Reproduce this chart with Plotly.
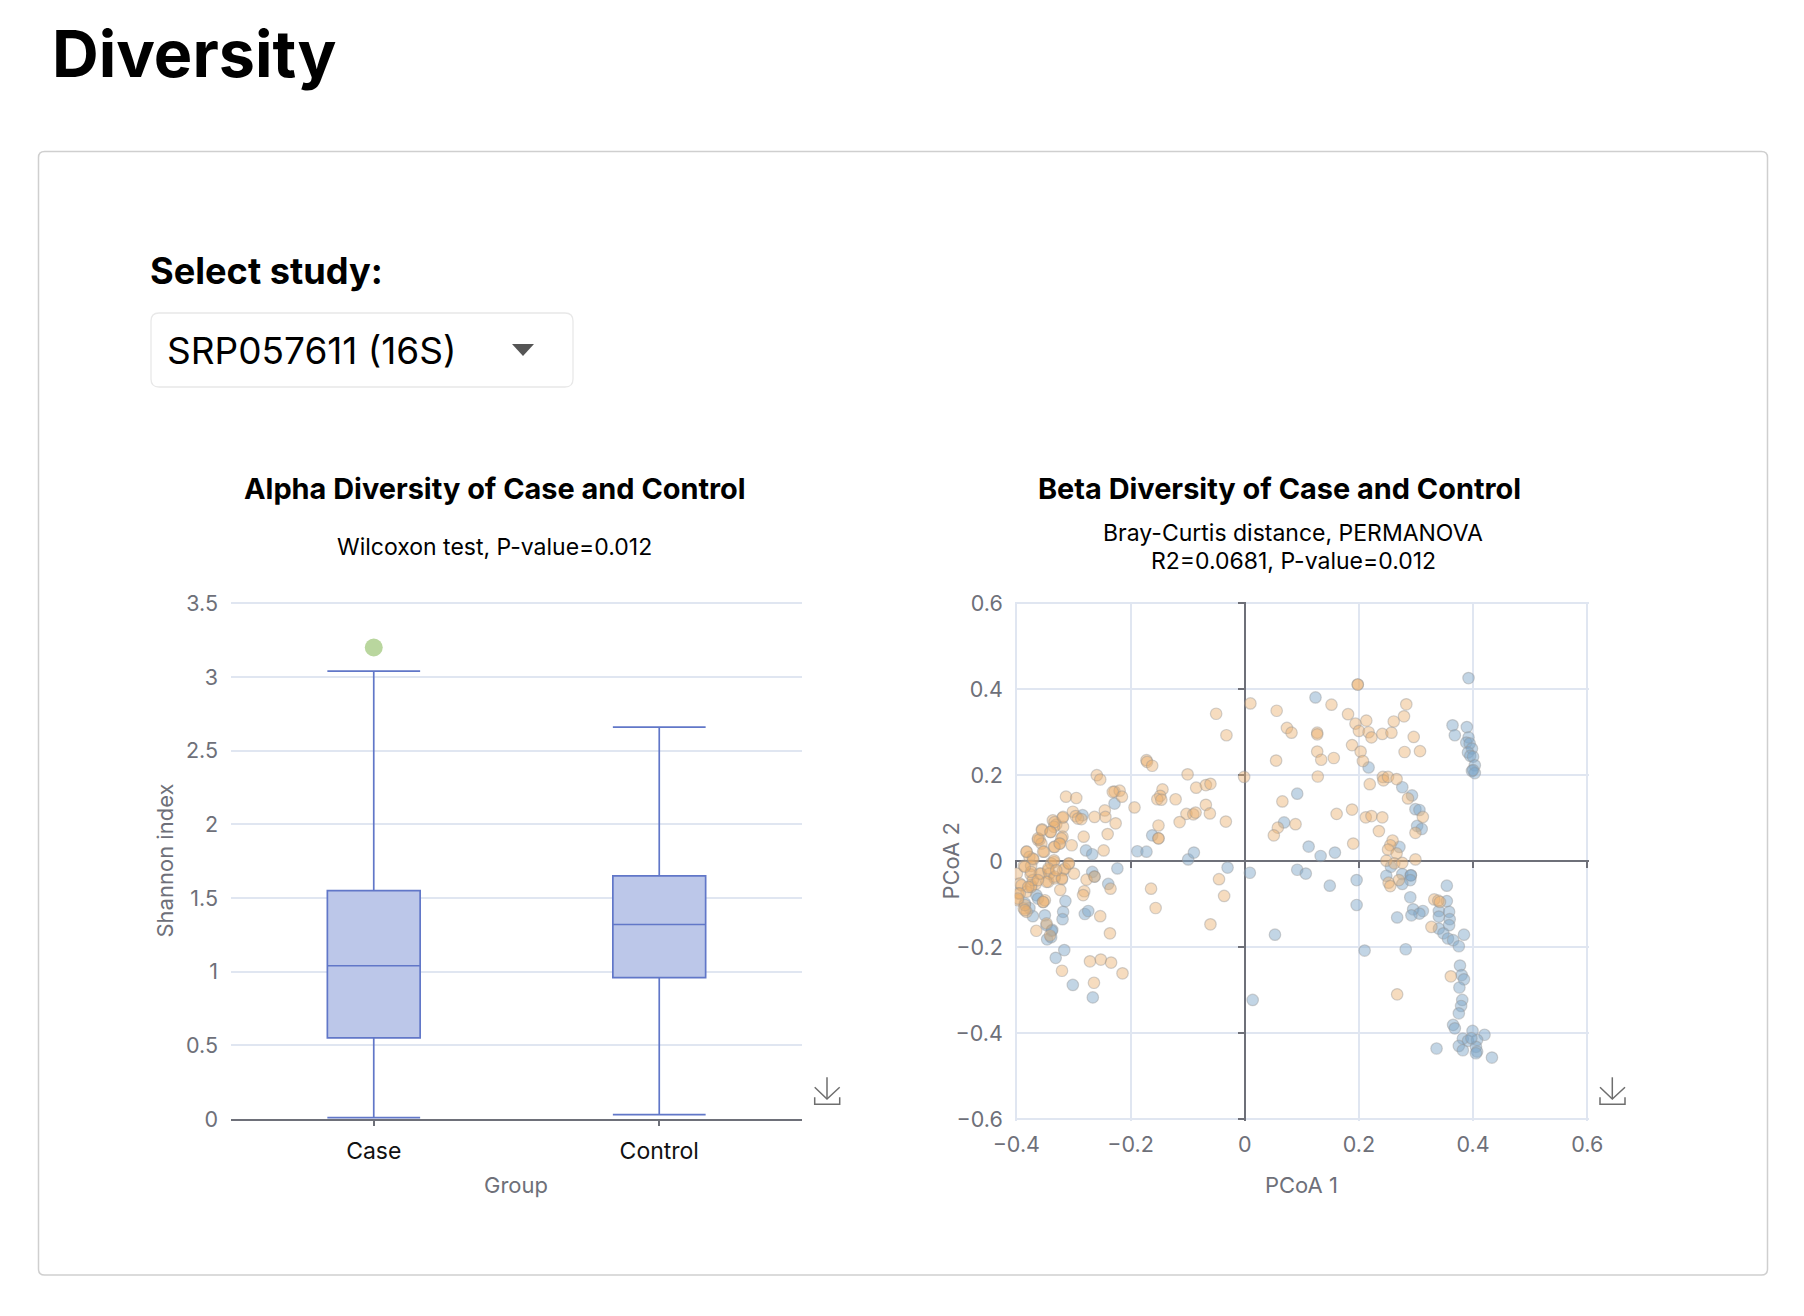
import plotly.graph_objects as go

W, H = 1804, 1316

# ---------- data ----------
groups = ["Case", "Control"]
box_lower = [0.01, 0.03]
box_q1 = [0.55, 0.96]
box_median = [1.04, 1.32]
box_q3 = [1.55, 1.65]
box_upper = [3.04, 2.66]
outlier_group = ["Case"]
outlier_value = [3.2]

alpha_ticks = [0, 0.5, 1, 1.5, 2, 2.5, 3, 3.5]
alpha_tick_labels = ["0", "0.5", "1", "1.5", "2", "2.5", "3", "3.5"]
pcoa_x_ticks = [-0.4, -0.2, 0, 0.2, 0.4, 0.6]
pcoa_x_labels = ["\u22120.4", "\u22120.2", "0", "0.2", "0.4", "0.6"]
pcoa_y_ticks = [-0.6, -0.4, -0.2, 0, 0.2, 0.4, 0.6]
pcoa_y_labels = ["\u22120.6", "\u22120.4", "\u22120.2", "0", "0.2", "0.4", "0.6"]

blue_x = [.124,.092,.069,.112,.133,.158,-.030,.009,.092,.107,.149,.196,.196,.053,-.099,-.089,-.162,
          -.228,-.284,-.278,-.267,-.188,-.172,-.223,-.267,-.263,-.239,-.314,-.318,-.319,-.280,-.274,
          -.371,-.350,-.377,-.347,-.337,-.365,-.362,-.385,-.316,-.331,-.301,-.266,-.346,-.339,-.338,.014,
          .392,.364,.368,.389,.392,.388,.394,.398,.391,.395,.400,.403,.398,.403,.400,
          .217,.276,.293,.299,.306,.302,.310,.271,.256,.248,.276,.291,.291,.290,.276,.354,.290,.354,
          .312,.295,.306,.292,.267,.340,.358,.340,.359,.358,.384,.340,.348,.356,.365,.375,
          .377,.380,.384,.376,.381,.379,.375,.365,.368,.399,.420,.382,.391,.407,.375,.382,.405,.407,.405,
          .336,.433,.397,.210,.282]
blue_y = [.381,.157,.090,.034,.012,.020,-.015,-.027,-.020,-.029,-.057,-.044,-.102,-.171,.004,.020,.060,
          .134,.107,.025,.016,.023,.022,-.017,-.025,-.036,-.053,-.093,-.118,-.135,-.123,-.116,
          -.128,-.126,-.109,-.149,-.160,-.079,-.087,-.098,-.207,-.225,-.288,-.317,-.182,-.177,-.162,-.323,
          .426,.316,.293,.312,.288,.276,.274,.262,.253,.245,.243,.223,.210,.205,.212,
          .218,.172,.153,.121,.119,.082,.075,.033,-.013,-.034,-.030,-.033,-.033,-.044,-.053,-.057,-.084,-.093,
          -.116,-.112,-.122,-.126,-.131,-.116,-.118,-.129,-.135,-.149,-.171,-.157,-.168,-.180,-.184,-.198,
          -.243,-.265,-.275,-.294,-.323,-.337,-.354,-.381,-.389,-.395,-.404,-.413,-.418,-.416,-.430,-.440,-.432,-.443,-.447,
          -.436,-.457,-.412,-.208,-.205]

orange_x = [-.050,-.032,.010,.056,.074,.082,.127,.127,.152,.181,.055,.127,.134,.156,.188,.128,-.001,-.100,
            -.172,-.171,-.162,-.259,-.253,-.313,-.295,-.228,-.219,-.215,-.231,-.193,-.144,-.148,-.153,-.146,
            -.121,-.085,-.068,-.060,-.068,-.102,-.090,-.086,-.061,-.114,-.033,-.151,-.151,-.151,-.245,-.244,
            -.263,-.226,-.240,-.282,-.247,-.303,-.301,-.296,-.292,-.286,-.319,-.336,-.330,-.318,-.334,-.340,
            -.355,-.319,-.324,-.334,-.362,-.359,-.356,-.351,-.382,-.377,-.370,-.387,-.374,-.375,-.359,-.344,
            -.334,-.339,-.308,-.399,-.318,-.299,-.320,-.344,-.333,-.323,-.394,-.374,-.366,-.397,-.382,-.397,
            -.387,-.382,-.353,-.350,-.365,-.347,-.341,-.277,-.263,-.281,-.283,-.235,-.253,-.236,-.164,-.156,
            -.060,-.045,-.036,-.271,-.252,-.234,-.214,-.320,-.264,.066,.058,.051,.089,.161,.188,.190,
            .198,.198,.194,.213,.200,.217,.222,.241,.257,.261,.279,.283,.296,.280,.307,.203,.207,.242,.243,
            .251,.266,.219,.286,.212,.222,.241,.312,.235,.299,.259,.255,.251,.266,.248,.262,.276,.299,.270,
            .252,.255,.332,.339,.342,.327,.361,.267,
            -.391,-.394,-.374,-.371,-.374,-.357,-.342,-.333,-.320,-.347,-.385,-.371,-.382,-.362,-.353,-.334,
            -.315,-.308,-.385,-.397,-.385,-.353,-.379,-.362,-.344,-.330,-.333,-.318,-.355,-.340,-.321,-.333,-.324]
orange_y = [.343,.293,.367,.350,.310,.299,.299,.295,.364,.342,.234,.255,.236,.240,.270,.197,.196,.202,
            .235,.231,.222,.200,.190,.150,.147,.162,.164,.150,.161,.125,.167,.152,.144,.143,
            .144,.171,.177,.180,.131,.110,.109,.113,.111,.091,.092,.083,.053,.053,.118,.103,
            .103,.088,.063,.057,.025,.037,.115,.105,.099,.098,.101,.095,.085,.080,.080,.068,
            .074,.057,.041,.033,.049,.050,.041,.022,.022,.010,.004,-.011,-.011,-.031,-.029,-.021,
            -.002,-.005,-.006,-.029,-.021,-.029,-.042,-.048,-.040,-.067,-.052,-.056,-.053,-.075,-.071,-.091,
            -.110,-.118,-.095,-.091,-.162,-.145,-.173,-.043,-.036,-.070,-.079,-.064,-.128,-.168,-.064,-.109,
            -.147,-.042,-.081,-.233,-.229,-.236,-.261,-.255,-.283,.139,.078,.060,.086,.110,.120,.041,
            .411,.411,.320,.327,.303,.300,.288,.296,.299,.325,.337,.365,.289,.254,.256,.255,.233,.196,.188,
            .196,.191,.179,.146,.102,.105,.102,.103,.070,.066,.048,.037,.027,.018,.001,-.005,-.004,.004,-.044,
            -.050,-.058,-.089,-.092,-.095,-.153,-.268,-.310,
            -.056,-.075,-.060,-.044,-.025,-.029,-.029,-.036,-.040,-.048,-.013,.006,.022,.053,.022,.002,
            -.017,-.005,-.102,-.087,-.114,-.095,-.060,-.044,-.017,-.021,.091,.103,.072,.068,.053,.033,.041]

# ---------- pixel helpers ----------
def px(x): return x / W
def py(y): return 1 - y / H
def rrect(x0, y0, x1, y1, r):
    a, b, c, d = px(x0), px(x1), py(y0), py(y1)
    rx, ry = r / W, r / H
    return (f"M {a+rx} {c} L {b-rx} {c} Q {b} {c} {b} {c-ry} L {b} {d+ry} Q {b} {d} {b-rx} {d} "
            f"L {a+rx} {d} Q {a} {d} {a} {d+ry} L {a} {c-ry} Q {a} {c} {a+rx} {c} Z")
def poly(points, close=False):
    s = " ".join(("M" if i == 0 else "L") + f" {px(x)} {py(y)}" for i, (x, y) in enumerate(points))
    return s + (" Z" if close else "")
def download_icon(x0):
    return [poly([(x0, 1087.3), (x0 + 12.3, 1099), (x0 + 25, 1087.3)]),
            poly([(x0 + 12.3, 1077.3), (x0 + 12.3, 1099)]),
            poly([(x0, 1097.3), (x0, 1104.3), (x0 + 25, 1104.3), (x0 + 25, 1097.3)])]

FONT = "Inter"
GREY = "#6e7079"
GRID = "#e0e6f1"

fig = go.Figure()

# ---------- alpha box plot ----------
fig.add_trace(go.Box(
    x=groups, q1=box_q1, median=box_median, q3=box_q3,
    lowerfence=box_lower, upperfence=box_upper,
    width=0.325, whiskerwidth=1, boxpoints=False,
    fillcolor="#bcc7e9", line=dict(color="#6177c8", width=1.7),
    xaxis="x", yaxis="y", showlegend=False))
fig.add_trace(go.Scatter(
    x=outlier_group, y=outlier_value, mode="markers",
    marker=dict(size=18, color="#b9d69e"),
    xaxis="x", yaxis="y", showlegend=False))

# ---------- beta scatter ----------
def scatter(xs, ys, color):
    return go.Scatter(x=xs, y=ys, mode="markers",
                      marker=dict(size=11.5, color=color,
                                  line=dict(color="rgba(150,150,150,0.42)", width=1.2)),
                      xaxis="x2", yaxis="y2", showlegend=False)
fig.add_trace(scatter(blue_x, blue_y, "rgba(125,165,200,0.47)"))
fig.add_trace(scatter(orange_x, orange_y, "rgba(235,175,110,0.44)"))
# the axes crossing at zero live on a matched overlay pair
fig.add_trace(go.Scatter(x=[], y=[], xaxis="x3", yaxis="y3", showlegend=False))

shapes = [
    dict(type="path", xref="paper", yref="paper", path=rrect(38.5, 151.5, 1767.5, 1275, 6),
         line=dict(color="#cfcfcf", width=1.5), fillcolor="#ffffff", layer="below"),
    dict(type="path", xref="paper", yref="paper", path=rrect(151, 313, 573, 387, 8),
         line=dict(color="#e8e8e8", width=1.3), fillcolor="#ffffff", layer="below"),
    dict(type="path", xref="paper", yref="paper",
         path=poly([(512, 344), (534, 344), (523, 356)], close=True),
         line=dict(width=0), fillcolor="#555555"),
]
for x0 in (814.7, 1600):
    for p in download_icon(x0):
        shapes.append(dict(type="path", xref="paper", yref="paper", path=p,
                           line=dict(color="#6e6e6e", width=1.5)))

def text(s, x, y, size, color="#000000", weight=400, anchor="center", angle=0):
    return dict(text=s, x=px(x), y=py(y), xref="paper", yref="paper", showarrow=False,
                xanchor=anchor, yanchor="middle", textangle=angle,
                font=dict(family=FONT, size=size, color=color, weight=weight))

annotations = [
    text("Diversity", 49.5, 53, 64.7, weight=700, anchor="left"),
    text("Select study:", 147.5, 271, 36.2, weight=700, anchor="left"),
    text("SRP057611 (16S)", 164.5, 350, 37, anchor="left"),
    text("Alpha Diversity of Case and Control", 495, 488, 28.9, weight=700),
    text("Beta Diversity of Case and Control", 1279, 488, 28.9, weight=700),
    text("Wilcoxon test, P-value=0.012", 494, 546.5, 23),
    text("Bray-Curtis distance, PERMANOVA", 1293, 533, 23),
    text("R2=0.0681, P-value=0.012", 1293, 560.5, 23),
    text("Group", 516, 1185, 22, color=GREY),
    text("PCoA 1", 1301, 1185, 22, color=GREY),
    text("Shannon index", 164.5, 861, 22, color=GREY, angle=-90),
    text("PCoA 2", 950.5, 861, 22, color=GREY, angle=-90),
]

# a little slack so the grid lines on the plot edges are kept
pad_px = 1.5
alpha_top = 3.5 + pad_px * 3.5 / (1119 - 603.3)
pcoa_dx = pad_px * 1.0 / 571
pcoa_dy = pad_px * 1.2 / (1119 - 603.3)
pcoa_x_range = [-0.4 - pcoa_dx, 0.6 + pcoa_dx]
pcoa_y_range = [-0.6 - pcoa_dy, 0.6 + pcoa_dy]

fig.update_layout(
    width=W, height=H, autosize=False,
    margin=dict(l=0, r=0, t=0, b=0),
    paper_bgcolor="#ffffff", plot_bgcolor="rgba(0,0,0,0)",
    font=dict(family=FONT, color=GREY, size=21),
    shapes=shapes, annotations=annotations,
    xaxis=dict(domain=[px(231), px(802)], type="category", range=[-0.5, 1.5],
               categoryorder="array", categoryarray=groups, automargin=False,
               showgrid=False, zeroline=False, showline=True, linecolor=GREY, linewidth=1.7,
               ticks="outside", ticklen=5, tickcolor=GREY, tickwidth=1.7,
               tickfont=dict(family=FONT, size=23, color="#111111"), ticklabelstandoff=6,
               anchor="y"),
    yaxis=dict(domain=[py(1119), py(603.3 - pad_px)], range=[0, alpha_top], automargin=False,
               tickvals=alpha_ticks, ticktext=alpha_tick_labels,
               showgrid=True, gridcolor=GRID, gridwidth=1.7, zeroline=False, showline=False,
               ticks="", ticklabelstandoff=12, tickfont=dict(family=FONT, size=21.5, color=GREY),
               anchor="x"),
    xaxis2=dict(domain=[px(1016.3 - pad_px), px(1587.3 + pad_px)], automargin=False,
                range=pcoa_x_range, tickvals=pcoa_x_ticks, ticktext=pcoa_x_labels,
                showgrid=True, gridcolor=GRID, gridwidth=1.7, zeroline=False, showline=False,
                ticks="", ticklabelstandoff=9, tickfont=dict(family=FONT, size=21.5, color=GREY),
                anchor="y2"),
    yaxis2=dict(domain=[py(1119 + pad_px), py(603.3 - pad_px)], automargin=False,
                range=pcoa_y_range, tickvals=pcoa_y_ticks, ticktext=pcoa_y_labels,
                showgrid=True, gridcolor=GRID, gridwidth=1.7, zeroline=False, showline=False,
                ticks="", ticklabelstandoff=11, tickfont=dict(family=FONT, size=21.5, color=GREY),
                anchor="x2"),
    xaxis3=dict(overlaying="x2", matches="x2", anchor="free", position=py(861), automargin=False,
                tickvals=pcoa_x_ticks, showticklabels=False, showgrid=False, zeroline=False,
                showline=True, linecolor=GREY, linewidth=2, ticks="outside", ticklen=6,
                tickcolor=GREY, tickwidth=2, layer="below traces"),
    yaxis3=dict(overlaying="y2", matches="y2", anchor="free", position=px(1245), side="left",
                automargin=False, tickvals=pcoa_y_ticks, showticklabels=False, showgrid=False,
                zeroline=False, showline=True, linecolor=GREY, linewidth=2, ticks="outside",
                ticklen=6, tickcolor=GREY, tickwidth=2, layer="below traces"),
)

fig.write_html("out.html", config=dict(displayModeBar=False),
               post_script="document.body.style.margin='0';document.body.style.overflow='hidden';")
